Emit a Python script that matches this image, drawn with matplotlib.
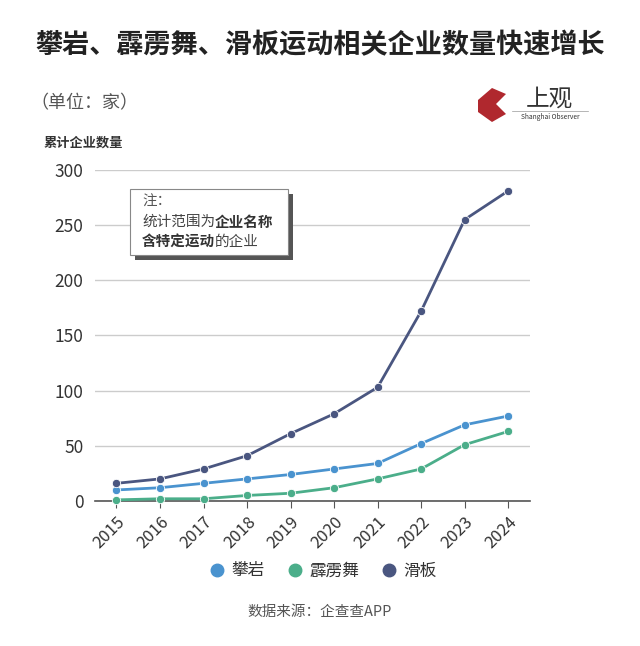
import matplotlib.pyplot as plt
from matplotlib.patches import Rectangle, Polygon
from matplotlib.lines import Line2D
from matplotlib.text import Annotation

plt.rcParams['font.family'] = ['Noto Sans CJK SC', 'DejaVu Sans']

# 数据
years = ["2015", "2016", "2017", "2018", "2019", "2020", "2021", "2022", "2023", "2024"]
climbing = [10, 12, 16, 20, 24, 29, 34, 52, 69, 77]
breaking = [1, 2, 2, 5, 7, 12, 20, 29, 51, 63]
skateboard = [16, 20, 29, 41, 61, 79, 103, 172, 255, 281]
series_names = ["攀岩", "霹雳舞", "滑板"]
colors = ["#4A93CF", "#4BAE8A", "#4A5680"]

fig = plt.figure(figsize=(6.4, 6.46), dpi=100)
ax = fig.add_axes([0.148, 0.2245, 0.680, 0.5124])

x = list(range(len(years)))
for vals, name, c in zip([climbing, breaking, skateboard], series_names, colors):
    ax.plot(x, vals, color=c, lw=2.0, marker="o", markersize=6,
            markeredgecolor="white", markeredgewidth=0.6, label=name,
            clip_on=False, zorder=3)

ax.set_xlim(-0.5, len(years) - 0.5)
ax.set_ylim(0, 300)
ax.set_yticks([0, 50, 100, 150, 200, 250, 300])
ax.grid(axis="y", color="#cccccc", lw=1.0)
ax.set_axisbelow(True)
for s in ["top", "right", "left"]:
    ax.spines[s].set_visible(False)
ax.spines["bottom"].set_color("#555555")
ax.spines["bottom"].set_linewidth(1.2)
ax.set_xticks(x)
ax.set_xticklabels(years, rotation=45, ha="right", rotation_mode="anchor")
ax.tick_params(axis="x", length=5, color="#555555", labelsize=12,
               labelcolor="#333333", pad=4)
ax.tick_params(axis="y", length=0, labelsize=12.5, labelcolor="#333333", pad=8)

# 标题与说明
fig.text(0.5, 0.93, "攀岩、霹雳舞、滑板运动相关企业数量快速增长", ha="center",
         va="center", fontsize=19.5, fontweight="bold", color="#222222")
fig.text(0.048, 0.84, "（单位：家）", ha="left", va="center", fontsize=13,
         color="#555555")
fig.text(0.068, 0.779, "累计企业数量", ha="left", va="center", fontsize=9.5,
         fontweight="bold", color="#333333")

# 注释框
bx0, by0, bw, bh = 130 / 640, 1 - 255 / 646, 158 / 640, 66 / 646
fig.add_artist(Rectangle((bx0 + 5 / 640, by0 - 5 / 646), bw, bh,
                         transform=fig.transFigure, facecolor="#555555",
                         edgecolor="none", zorder=4))
fig.add_artist(Rectangle((bx0, by0), bw, bh, transform=fig.transFigure,
                         facecolor="white", edgecolor="#888888", lw=0.8,
                         zorder=5))
tx = bx0 + 12 / 640
fig.text(tx, 1 - 202 / 646, "注：", fontsize=10.5, color="#555555",
         va="center", zorder=6)
t1 = fig.text(tx, 1 - 222 / 646, "统计范围为", fontsize=10.5, color="#444444",
              va="center", zorder=6)
fig.add_artist(Annotation("企业名称", xy=(1, 0.5), xycoords=t1,
                          va="center", ha="left", fontsize=10.5,
                          fontweight="bold", color="#333333", zorder=6))
t3 = fig.text(tx, 1 - 242 / 646, "含特定运动", fontsize=10.5, fontweight="bold",
              color="#333333", va="center", zorder=6)
fig.add_artist(Annotation("的企业", xy=(1, 0.5), xycoords=t3,
                          va="center", ha="left", fontsize=10.5,
                          color="#444444", zorder=6))

# 标志
logo = Polygon([(478 / 640, 1 - 100 / 646), (492 / 640, 1 - 88 / 646),
                (506 / 640, 1 - 94 / 646), (496 / 640, 1 - 104 / 646),
                (506 / 640, 1 - 114 / 646), (492 / 640, 1 - 122 / 646),
                (478 / 640, 1 - 112 / 646)], closed=True,
               transform=fig.transFigure, facecolor="#B0282E",
               edgecolor="none")
fig.add_artist(logo)
fig.text(549 / 640, 1 - 99 / 646, "上观", ha="center", va="center",
         fontsize=17, color="#333333")
fig.add_artist(Line2D([512 / 640, 588 / 640], [1 - 111 / 646, 1 - 111 / 646],
                      color="#999999", lw=0.5))
fig.text(550 / 640, 1 - 117 / 646, "Shanghai Observer", ha="center",
         va="center", fontsize=4.8, color="#333333")

# 图例
handles = [Line2D([], [], ls="none", marker="o", markersize=9, color=c)
           for c in colors]
fig.legend(handles, series_names, loc="center", bbox_to_anchor=(0.503, 1 - 571 / 646),
           ncol=3, frameon=False, fontsize=12, handletextpad=0.25,
           columnspacing=1.2, handlelength=1.2, labelcolor="#333333")

fig.text(0.5, 1 - 612 / 646, "数据来源：企查查APP", ha="center", va="center",
         fontsize=10.5, color="#555555")

fig.savefig("out.png", dpi=100, facecolor="white")
